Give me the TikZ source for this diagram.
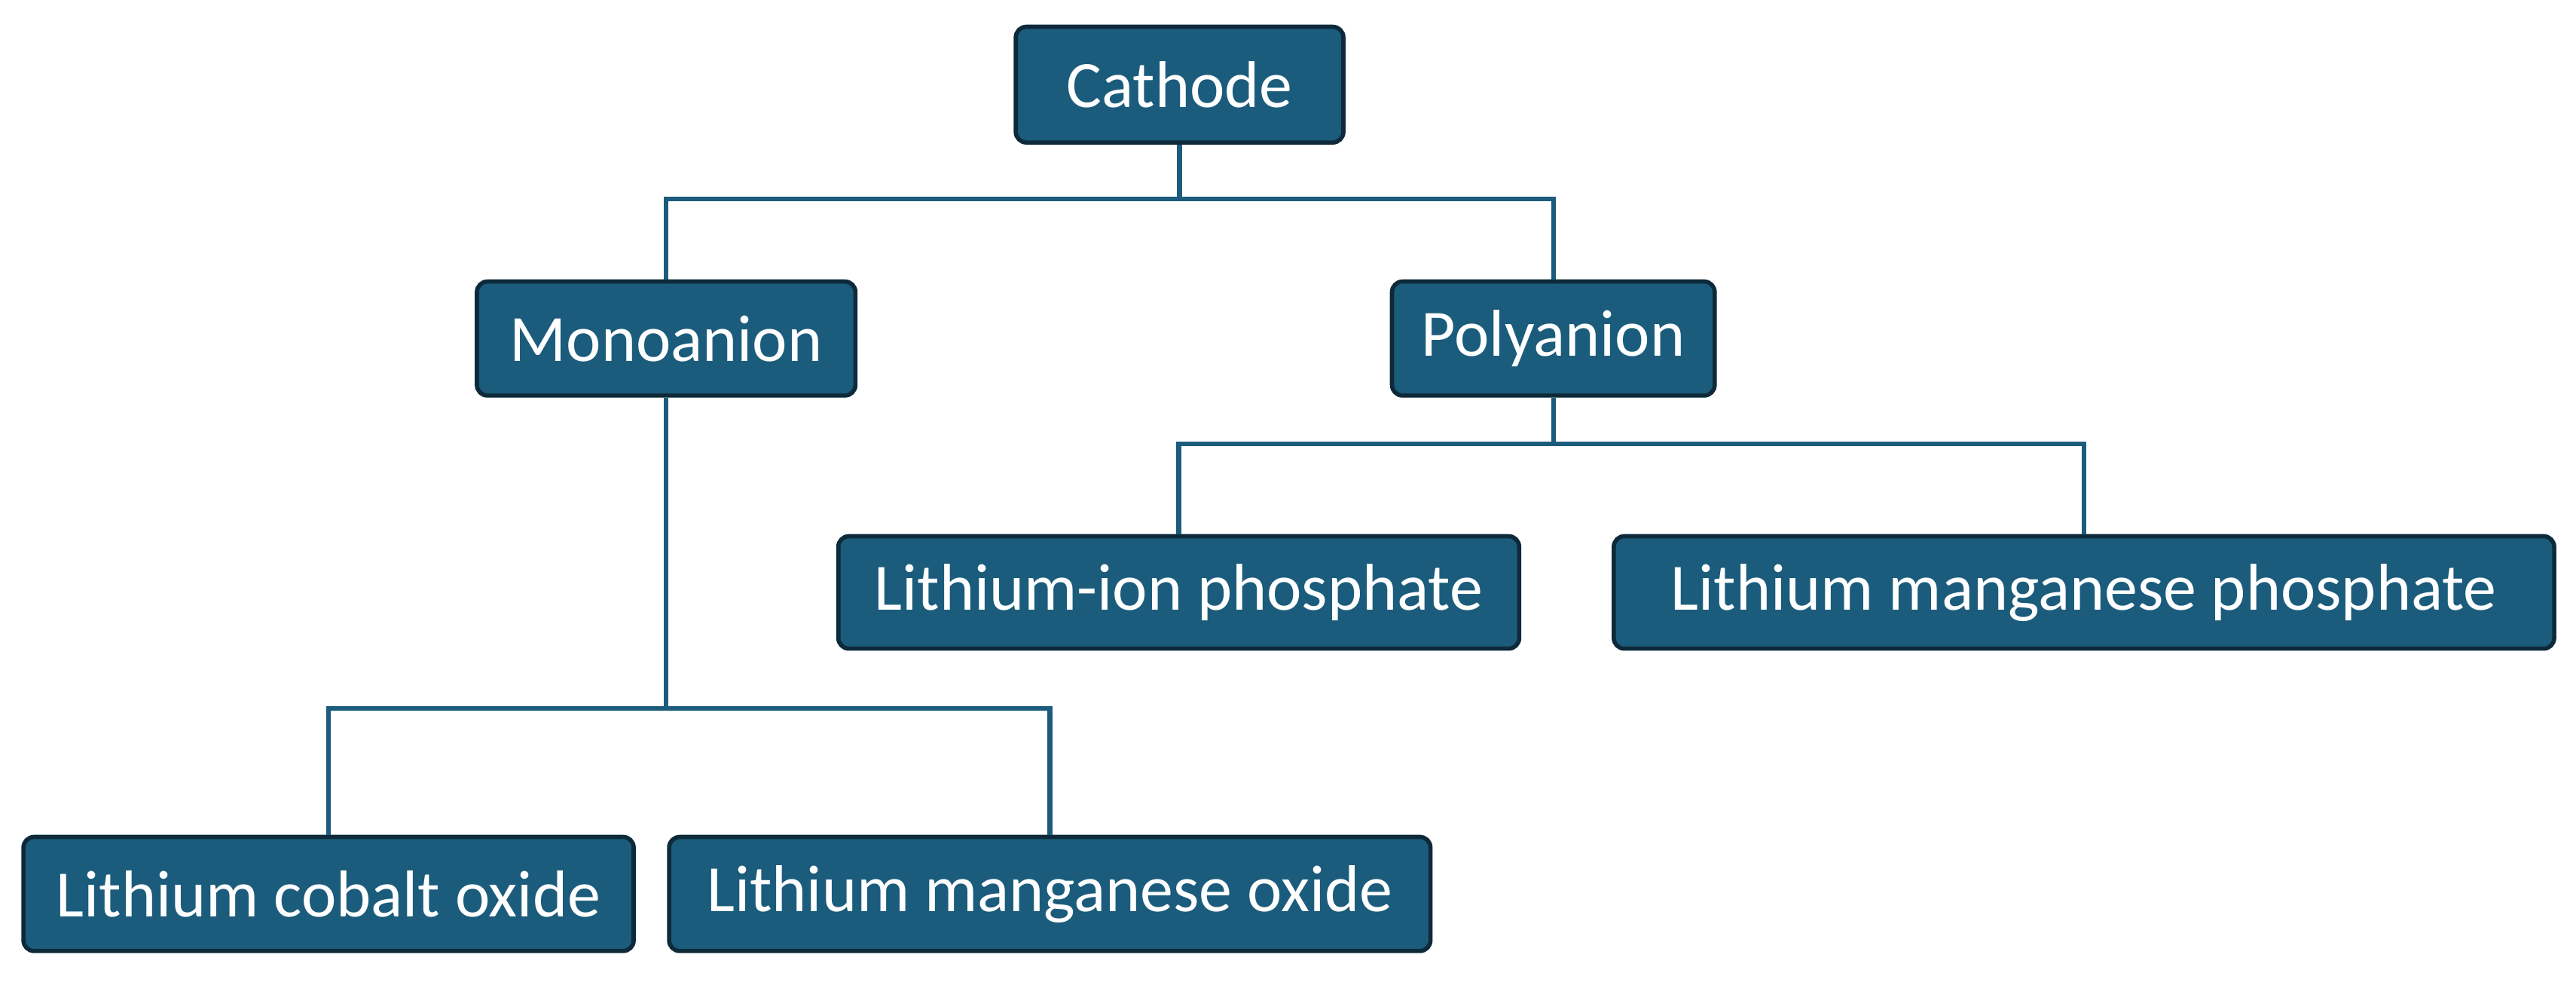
\documentclass[tikz,border=0pt]{standalone}
\usepackage{fontspec}
\setmainfont{Carlito}
\definecolor{boxc}{HTML}{1B5C7C}
\definecolor{edgec}{HTML}{0E2A3A}
\begin{document}
\begin{tikzpicture}[x=0.0218cm,y=-0.0218cm,
  bx/.style={draw=edgec,line width=1.6pt,fill=boxc,rounded corners=4pt,text=white,font=\fontsize{25}{28}\selectfont,inner sep=0pt},
  ln/.style={draw=boxc,line width=1.8pt}]
\useasboundingbox (0,0) rectangle (1568,599);
\newcommand\mybox[6]{\node[bx,minimum width=#4*0.0218cm-1.6pt,minimum height=#5*0.0218cm-1.6pt] (#1) at (#2,#3) {#6};}
\mybox{cat}{718}{51.5}{202}{73}{Cathode}
\mybox{mono}{405.5}{206}{233}{72}{Monoanion}
\mybox{poly}{945.5}{206}{199}{72}{Polyanion}
\mybox{lip}{717.5}{360.5}{417}{71}{Lithium-ion phosphate}
\mybox{lmp}{1268.5}{360.5}{575}{71}{Lithium manganese phosphate}
\mybox{lco}{200}{544}{374}{72}{Lithium cobalt oxide}
\mybox{lmo}{639}{544}{466}{72}{Lithium manganese oxide}
\coordinate (j1) at (718,121);
\coordinate (j2) at (945.5,270);
\coordinate (j3) at (405.5,431);
\draw[ln] (cat.south) -- (j1);
\draw[ln] (mono.north) |- (j1) -| (poly.north);
\draw[ln] (poly.south) -- (j2);
\draw[ln] (lip.north) |- (j2) -| (lmp.north);
\draw[ln] (mono.south) -- (j3);
\draw[ln] (lco.north) |- (j3) -| (lmo.north);
\end{tikzpicture}
\end{document}
